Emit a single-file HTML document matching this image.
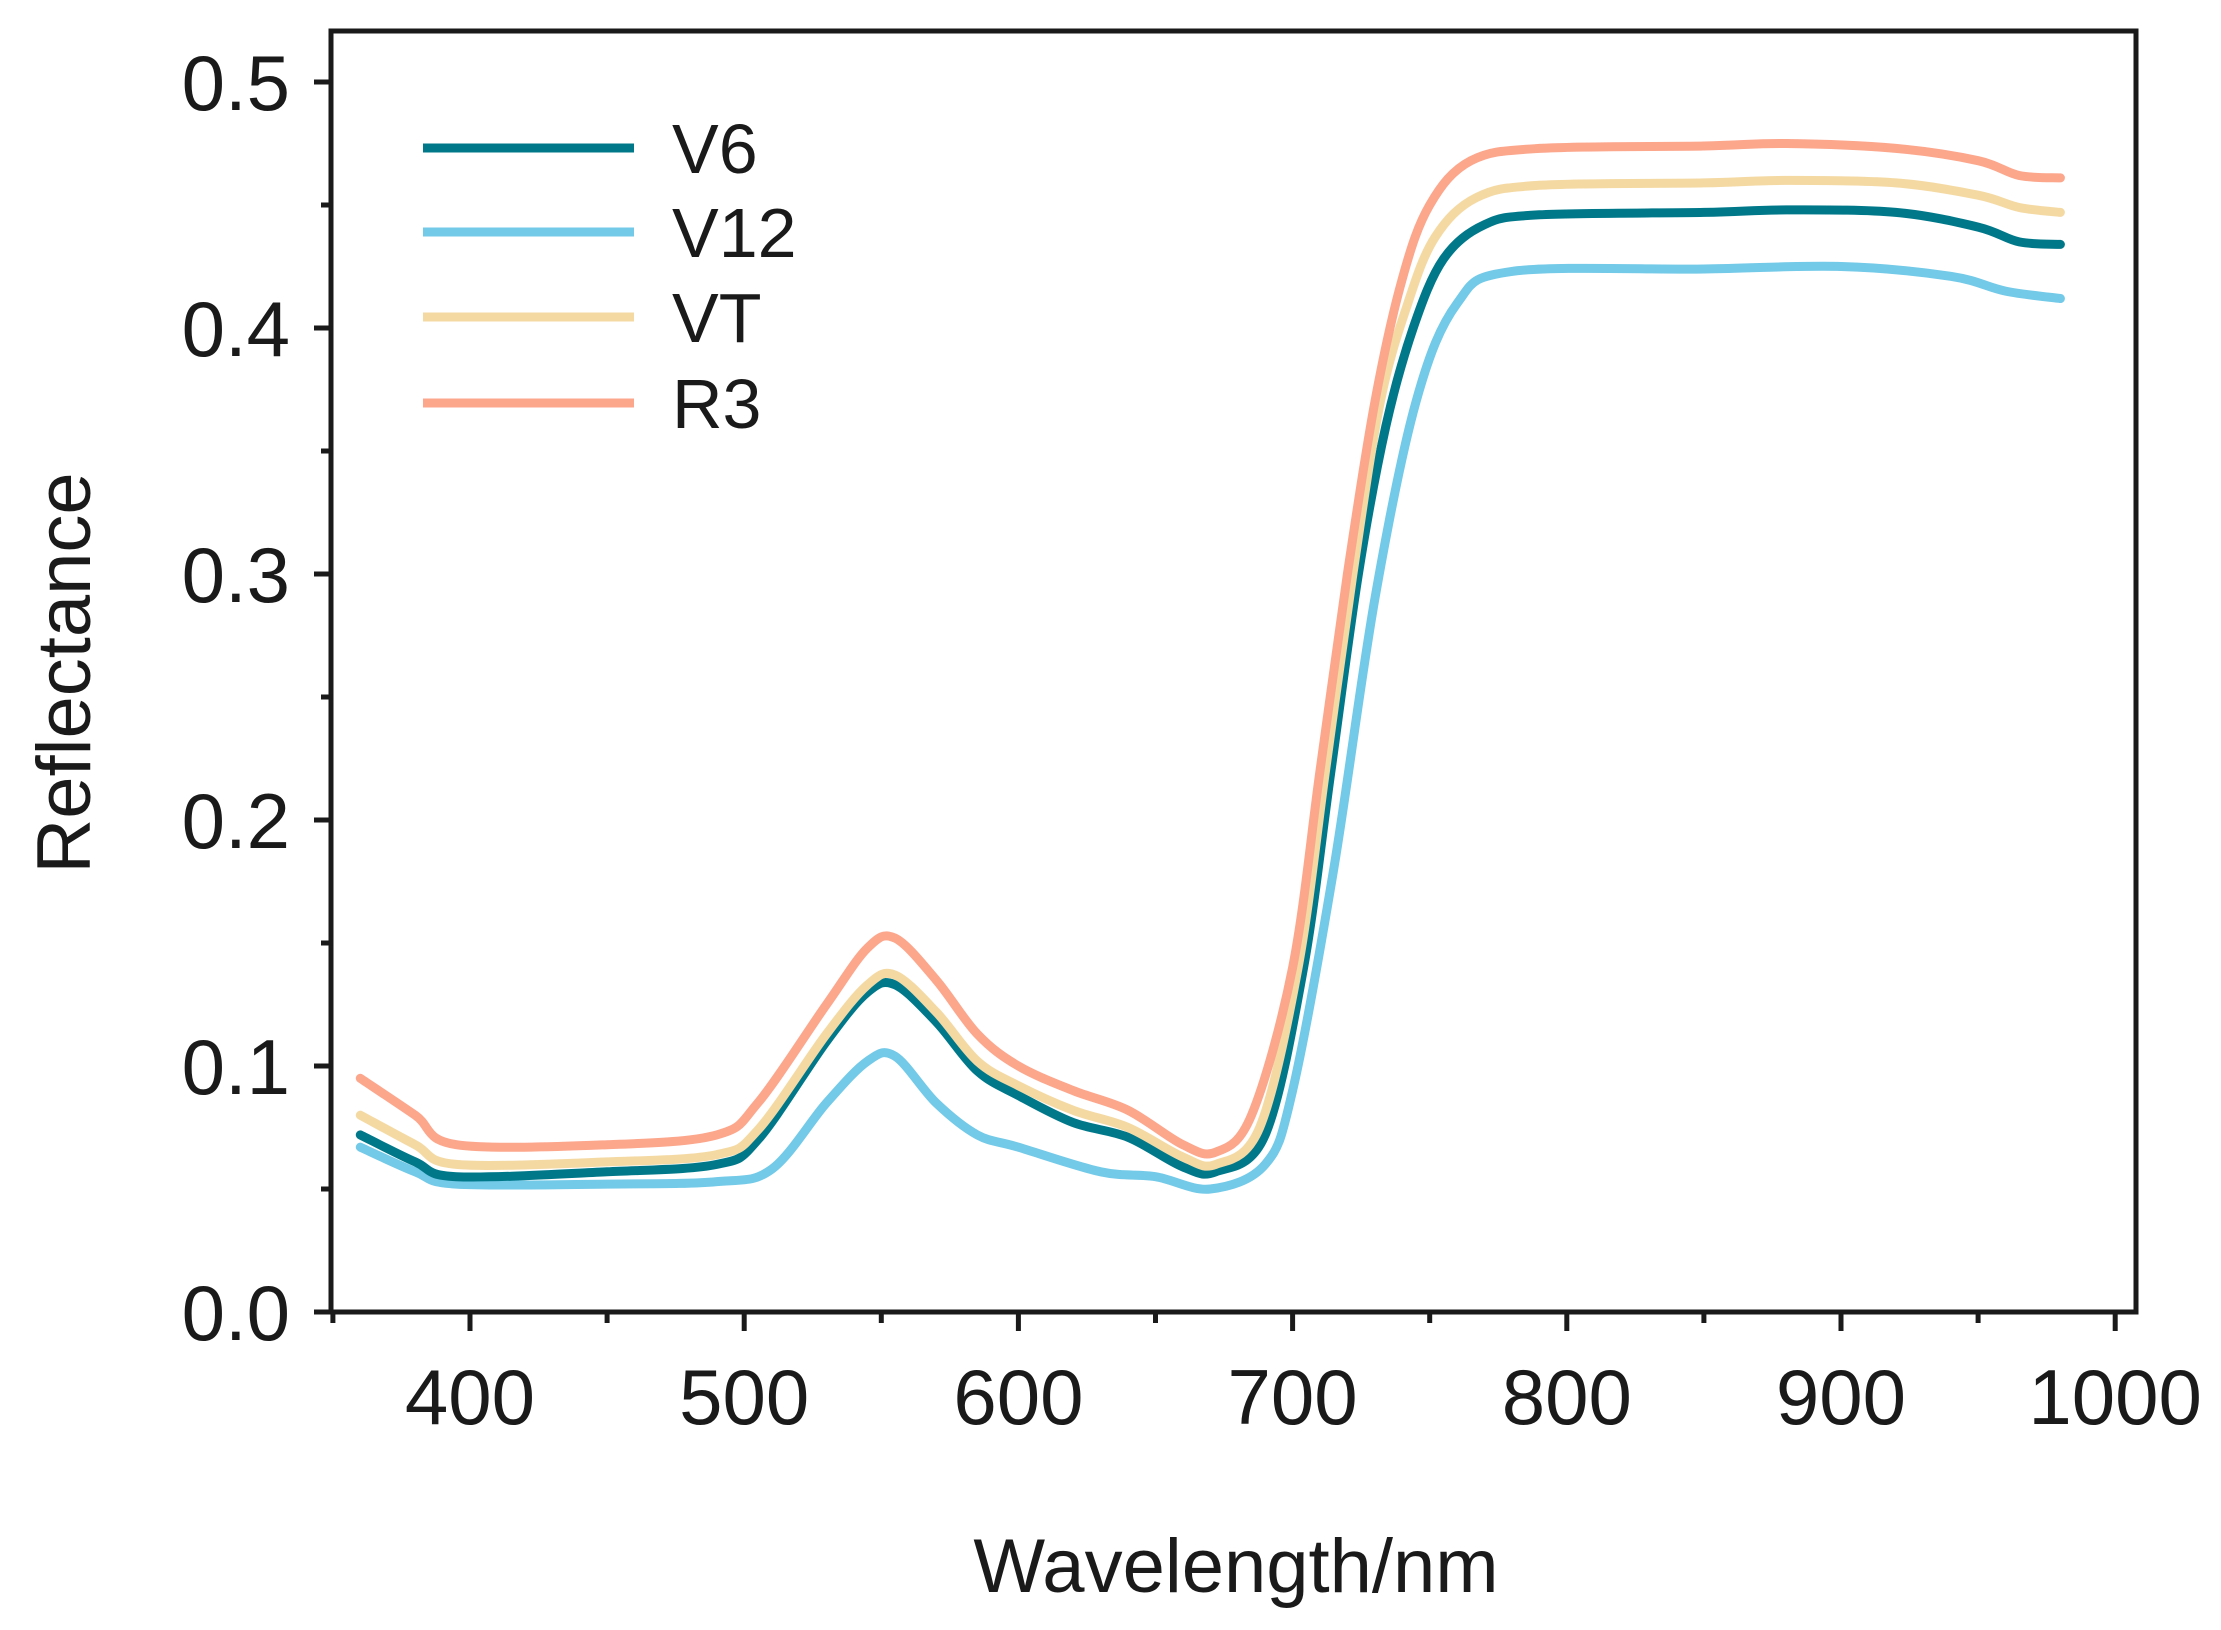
<!DOCTYPE html>
<html><head><meta charset="utf-8"><style>
html,body{margin:0;padding:0;background:#fff}
svg{display:block}
text{font-family:"Liberation Sans",Arial,sans-serif;fill:#1a1a1a}
</style></head><body>
<svg id="s" width="2221" height="1630" viewBox="0 0 2221 1630" xmlns="http://www.w3.org/2000/svg">
<rect width="2221" height="1630" fill="#fff"/>
<g id="curves" fill="none" stroke-width="9" stroke-linejoin="round" stroke-linecap="round"></g>
<rect x="331" y="31" width="1805" height="1281" fill="none" stroke="#1a1a1a" stroke-width="5"/>
<g id="ticks" stroke="#1a1a1a" stroke-width="5"></g>
<g id="labels" font-size="78"></g>
<text transform="translate(90,673) rotate(-90)" font-size="76" text-anchor="middle">Reflectance</text>
<text x="1236" y="1592" font-size="76" text-anchor="middle">Wavelength/nm</text>
<g stroke-width="9">
<line x1="423" y1="148" x2="634" y2="148" stroke="#00788a"/>
<line x1="423" y1="232" x2="634" y2="232" stroke="#72c9e8"/>
<line x1="423" y1="317" x2="634" y2="317" stroke="#f4d9a3"/>
<line x1="423" y1="403" x2="634" y2="403" stroke="#fca68c"/>
</g>
<g font-size="70">
<text x="672" y="173">V6</text>
<text x="672" y="257">V12</text>
<text x="672" y="342">VT</text>
<text x="672" y="428">R3</text>
</g>
</svg>
<script>
const X=w=>470+(w-400)*2.742, Y=v=>1312-v*2460;
const ns="http://www.w3.org/2000/svg";
const tk=document.getElementById('ticks'), lb=document.getElementById('labels');
function el(p,t,a,txt){const e=document.createElementNS(ns,t);for(const k in a)e.setAttribute(k,a[k]);if(txt)e.textContent=txt;p.appendChild(e);}
for(let i=0;i<=10;i++){const v=i*0.05,y=Y(v),maj=i%2==0;
 el(tk,'line',{x1:331,x2:maj?314:321,y1:y,y2:y});
 if(maj)el(lb,'text',{x:290,y:y+28,'text-anchor':'end'},(v).toFixed(1));}
for(let w=350;w<=1000;w+=50){const x=X(w),maj=w%100==0;
 el(tk,'line',{x1:x,x2:x,y1:1312,y2:maj?1331:1323});
 if(maj&&w>=400)el(lb,'text',{x:x,y:1424,'text-anchor':'middle'},w);}
const D={
R3:['#fca68c',[[360,.095],[380,.08],[395,.068],[450,.068],[490,.072],[505,.085],[530,.125],[545,.148],[555,.152],[570,.135],[585,.113],[600,.10],[620,.09],[640,.082],[660,.068],[672,.065],[685,.08],[700,.14],[710,.22],[720,.30],[730,.37],[740,.42],[750,.45],[765,.468],[790,.473],[850,.474],[880,.475],[920,.473],[950,.468],[965,.462],[980,.461]]],
VT:['#f4d9a3',[[360,.08],[380,.068],[395,.06],[450,.061],[490,.064],[505,.074],[530,.113],[545,.133],[555,.137],[570,.122],[585,.102],[600,.092],[620,.082],[640,.075],[660,.063],[672,.060],[688,.075],[702,.14],[712,.22],[722,.30],[732,.37],[742,.41],[752,.437],[767,.453],[790,.458],[850,.459],[880,.460],[920,.459],[950,.454],[965,.449],[980,.447]]],
V6:['#00788a',[[360,.072],[380,.061],[395,.055],[450,.057],[490,.06],[505,.07],[530,.11],[545,.13],[555,.133],[570,.118],[585,.098],[600,.088],[620,.077],[640,.071],[660,.059],[672,.057],[690,.072],[704,.14],[714,.22],[724,.30],[734,.36],[744,.40],[755,.428],[770,.442],[790,.446],[850,.447],[880,.448],[920,.447],[950,.441],[965,.435],[980,.434]]],
V12:['#72c9e8',[[360,.067],[380,.057],[395,.052],[450,.052],[490,.053],[510,.058],[530,.085],[545,.102],[555,.104],[570,.085],[585,.072],[600,.067],[630,.057],[650,.055],[670,.05],[690,.06],[700,.09],[715,.18],[730,.29],[745,.37],[760,.41],[780,.423],[850,.424],[900,.425],[940,.421],[960,.415],[980,.412]]]};
const g=document.getElementById('curves');
function smooth(pts){let d='M'+pts[0][0].toFixed(1)+','+pts[0][1].toFixed(1);
 for(let i=0;i<pts.length-1;i++){const p0=pts[Math.max(0,i-1)],p1=pts[i],p2=pts[i+1],p3=pts[Math.min(pts.length-1,i+2)];
  const c1=[p1[0]+(p2[0]-p0[0])/6,p1[1]+(p2[1]-p0[1])/6],c2=[p2[0]-(p3[0]-p1[0])/6,p2[1]-(p3[1]-p1[1])/6];
  d+='C'+c1.map(v=>v.toFixed(1)).join(',')+' '+c2.map(v=>v.toFixed(1)).join(',')+' '+p2.map(v=>v.toFixed(1)).join(',');}
 return d;}
for(const k of ['V12','V6','VT','R3']){const[c,p]=D[k];
 el(g,'path',{stroke:c,d:smooth(p.map(q=>[X(q[0]),Y(q[1])]))});}
</script>
</body></html>
